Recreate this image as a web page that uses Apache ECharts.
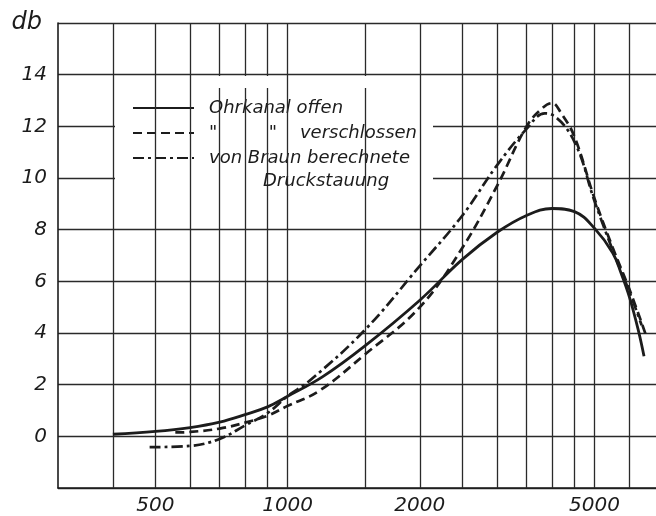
<!DOCTYPE html>
<html>
<head>
<meta charset="utf-8">
<script src="https://cdn.jsdelivr.net/npm/echarts@6/dist/echarts.min.js"></script>
<style>
html,body{margin:0;padding:0;background:#fff;}
#chart{width:656px;height:516px;}
</style>
</head>
<body>
<div id="chart"></div>
<script>
// Frequencies (Hz) and levels (dB)
const offenFreq = [400, 500, 600, 700, 800, 900, 1000, 1200, 1500, 2000, 2500, 3000, 3500, 4000, 4500, 5000, 5500, 5750, 6000, 6280, 6480];
const offenDb   = [0.08, 0.19, 0.34, 0.55, 0.84, 1.14, 1.55, 2.3, 3.5, 5.27, 6.85, 7.9, 8.55, 8.82, 8.7, 8.05, 7.1, 6.3, 5.4, 4.15, 3.1];

const verschlossenFreq = [555, 600, 700, 800, 900, 1000, 1180, 1500, 2000, 2500, 3000, 3500, 3800, 4000, 4200, 4500, 5000, 5500, 6000, 6550];
const verschlossenDb   = [0.15, 0.17, 0.3, 0.53, 0.8, 1.18, 1.76, 3.17, 5.0, 7.3, 9.7, 12.0, 12.7, 12.9, 12.5, 11.6, 9.2, 7.3, 5.7, 3.9];

const braunFreq = [485, 600, 700, 800, 900, 1000, 1120, 1500, 2000, 2500, 3000, 3500, 3850, 4000, 4500, 5000, 5500, 6000, 6400];
const braunDb   = [-0.42, -0.37, -0.1, 0.42, 0.9, 1.56, 2.14, 4.12, 6.6, 8.55, 10.5, 11.9, 12.5, 12.45, 11.4, 9.1, 7.2, 5.6, 4.3];

const gridFreqs = [400, 500, 600, 700, 800, 900, 1000, 1500, 2000, 2500, 3000, 3500, 4000, 4500, 5000, 6000];
const xLabelValues = [500, 1000, 2000, 5000];

const seriesNames = ['Ohrkanal offen', '"         "    verschlossen', 'von Braun berechnete'];
const secondLine = 'Druckstauung';

const FONT = 'DejaVu Sans';
const INK = '#1c1c1c';

function pairs(f, d) { return f.map((v, i) => [v, d[i]]); }

const chart = echarts.init(document.getElementById('chart'), null, {renderer: 'canvas'});

const option = {
  backgroundColor: '#ffffff',
  animation: false,
  grid: {left: 58, right: 0, top: 23, bottom: 24, containLabel: false},
  xAxis: {
    type: 'log',
    logBase: 10,
    min: 300,
    max: 6900,
    axisLine: {show: true, onZero: false, lineStyle: {color: INK, width: 1.6}},
    axisTick: {show: false},
    splitLine: {show: false},
    axisLabel: {
      customValues: xLabelValues,
      formatter: v => String(Math.round(v)),
      fontFamily: FONT, fontStyle: 'italic', fontSize: 20, color: INK, margin: 8
    }
  },
  yAxis: {
    type: 'value',
    min: -2,
    max: 16,
    interval: 2,
    name: 'db',
    nameLocation: 'end',
    nameGap: 0,
    nameTextStyle: {fontFamily: FONT, fontStyle: 'italic', fontSize: 24, color: INK, align: 'right', verticalAlign: 'middle', padding: [0, 16, 0, 0]},
    axisLine: {show: true, lineStyle: {color: INK, width: 1.6}},
    axisTick: {show: false},
    splitLine: {show: true, lineStyle: {color: '#2a2a2a', width: 1.3}},
    axisLabel: {
      formatter: v => (v >= 0 && v <= 14) ? String(v) : '',
      fontFamily: FONT, fontStyle: 'italic', fontSize: 20, color: INK, margin: 11
    }
  },
  legend: {
    data: seriesNames,
    orient: 'vertical',
    left: 115,
    top: 88,
    backgroundColor: '#ffffff',
    padding: [10, 16, 31, 17],
    itemWidth: 61,
    itemHeight: 14,
    itemGap: 5,
    selectedMode: false,
    itemStyle: {opacity: 0},
    textStyle: {fontFamily: FONT, fontStyle: 'italic', fontSize: 18, color: INK, lineHeight: 20, padding: [0, 0, 0, 10]}
  },
  graphic: [
    {type: 'rect', z: 100, shape: {x: 200, y: 76, width: 80, height: 12}, style: {fill: '#ffffff'}},
    {type: 'rect', z: 100, shape: {x: 340, y: 76, width: 60, height: 12}, style: {fill: '#ffffff'}},
    {type: 'text', z: 100, left: 263, top: 172, style: {text: secondLine, font: 'italic 18px "DejaVu Sans"', fill: INK}}
  ],
  series: [
    {
      name: 'grid', type: 'line', data: [], z: 1, silent: true,
      markLine: {
        silent: true, symbol: ['none', 'none'], animation: false,
        label: {show: false},
        lineStyle: {color: '#2a2a2a', width: 1.3, type: 'solid'},
        data: gridFreqs.map(f => ({xAxis: f}))
      }
    },
    {
      name: seriesNames[0], type: 'line', smooth: 0.4, symbol: 'none', z: 5,
      lineStyle: {color: INK, width: 2.8, type: 'solid'},
      itemStyle: {color: INK},
      data: pairs(offenFreq, offenDb)
    },
    {
      name: seriesNames[1], type: 'line', smooth: 0.4, symbol: 'none', z: 5,
      lineStyle: {color: INK, width: 2.7, type: [9, 5]},
      itemStyle: {color: INK},
      data: pairs(verschlossenFreq, verschlossenDb)
    },
    {
      name: seriesNames[2], type: 'line', smooth: 0.4, symbol: 'none', z: 5,
      lineStyle: {color: INK, width: 2.7, type: [11, 4, 3, 4]},
      itemStyle: {color: INK},
      data: pairs(braunFreq, braunDb)
    }
  ]
};
chart.setOption(option);
</script>
</body>
</html>
